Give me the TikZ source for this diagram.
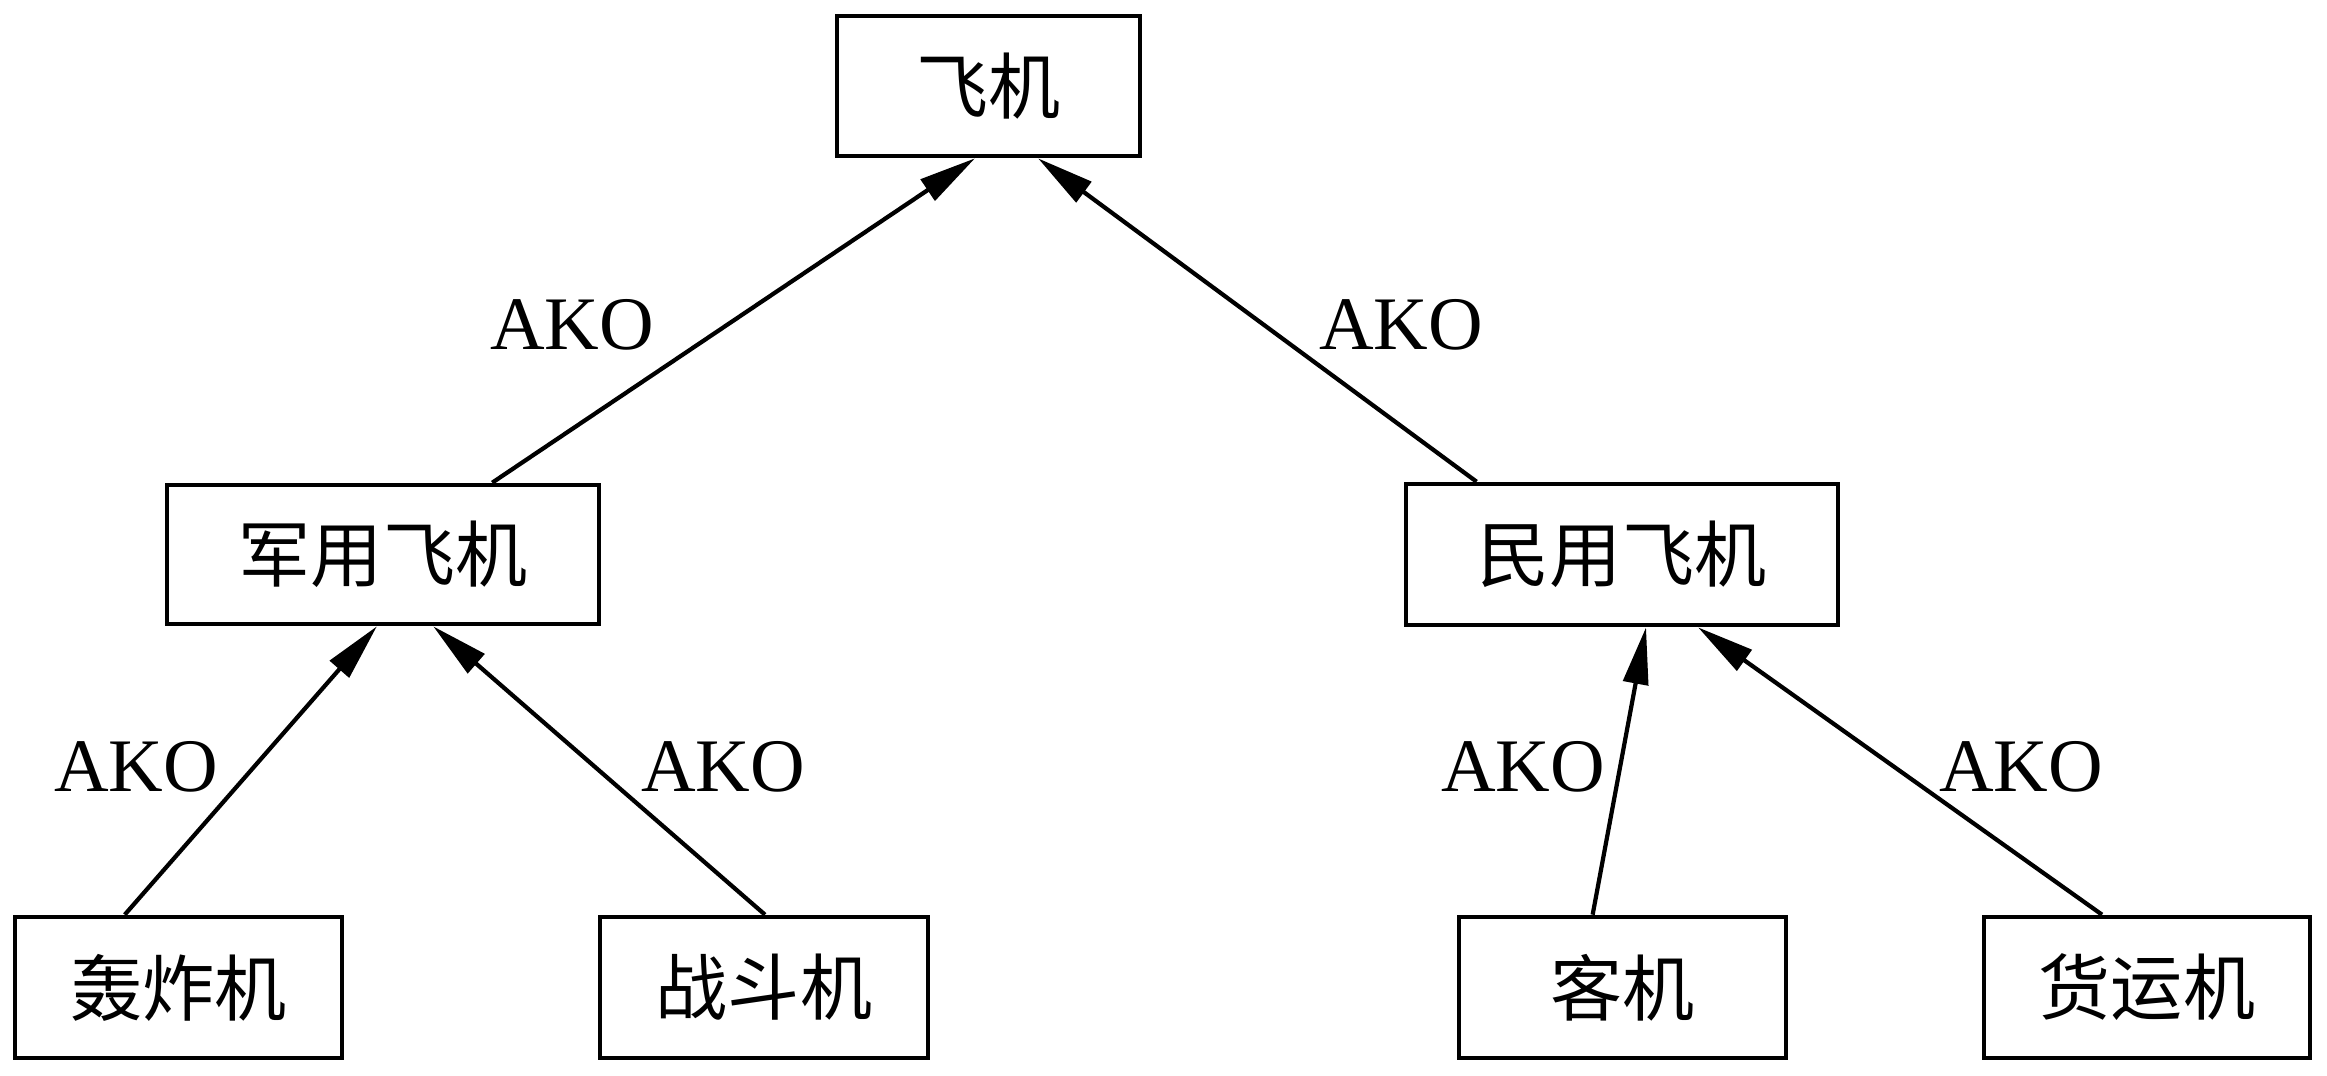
\documentclass[tikz,border=0pt]{standalone}
\usepackage{fontspec}
\setmainfont{Liberation Serif}
\newfontfamily\cjk{Noto Sans CJK SC}
\usetikzlibrary{arrows.meta,calc}
\tikzset{
  box/.style={draw, line width=1.3pt, inner sep=0pt, font=\cjk\fontsize{20.5pt}{24pt}\selectfont},
  ako/.style={font=\fontsize{21.5pt}{24pt}\selectfont, inner sep=0pt},
  link/.style={line width=1.2pt, -{Triangle[length=0.57cm,width=0.25cm]}}
}
\begin{document}
\begin{tikzpicture}[x=0.01cm,y=-0.01cm]
\useasboundingbox (0,0) rectangle (2327,1075);
\node[box, minimum width=3.03cm, minimum height=1.40cm] (root) at (988.5,86) {飞机};
\node[box, minimum width=4.32cm, minimum height=1.39cm] (mil) at (383,554.5) {军用飞机};
\node[box, minimum width=4.32cm, minimum height=1.41cm] (civ) at (1622,554.5) {民用飞机};
\node[box, minimum width=3.27cm, minimum height=1.41cm] (bomb) at (178.5,987.5) {轰炸机};
\node[box, minimum width=3.28cm, minimum height=1.41cm] (fight) at (764,987.5) {战斗机};
\node[box, minimum width=3.27cm, minimum height=1.41cm] (pass) at (1622.5,987.5) {客机};
\node[box, minimum width=3.26cm, minimum height=1.41cm] (cargo) at (2147,987.5) {货运机};

\draw[link] ($(mil.north west)!0.75!(mil.north east)$) -- ($(root.south west)!0.456!(root.south east)$);
\draw[link] ($(civ.north west)!0.167!(civ.north east)$) -- ($(root.south west)!0.661!(root.south east)$);
\draw[link] ($(bomb.north west)!0.338!(bomb.north east)$) -- ($(mil.south west)!0.486!(mil.south east)$);
\draw[link] ($(fight.north west)!0.503!(fight.north east)$) -- ($(mil.south west)!0.615!(mil.south east)$);
\draw[link] ($(pass.north west)!0.41!(pass.north east)$) -- ($(civ.south west)!0.555!(civ.south east)$);
\draw[link] ($(cargo.north west)!0.364!(cargo.north east)$) -- ($(civ.south west)!0.674!(civ.south east)$);

\node[ako] (l1) at (572,325) {AKO};
\node[ako] (l2) at (1401,325) {AKO};
\node[ako] (l3) at (136,767) {AKO};
\node[ako] (l4) at (723,767) {AKO};
\node[ako] (l5) at (1523,767) {AKO};
\node[ako] (l6) at (2021,767) {AKO};
\end{tikzpicture}
\end{document}
